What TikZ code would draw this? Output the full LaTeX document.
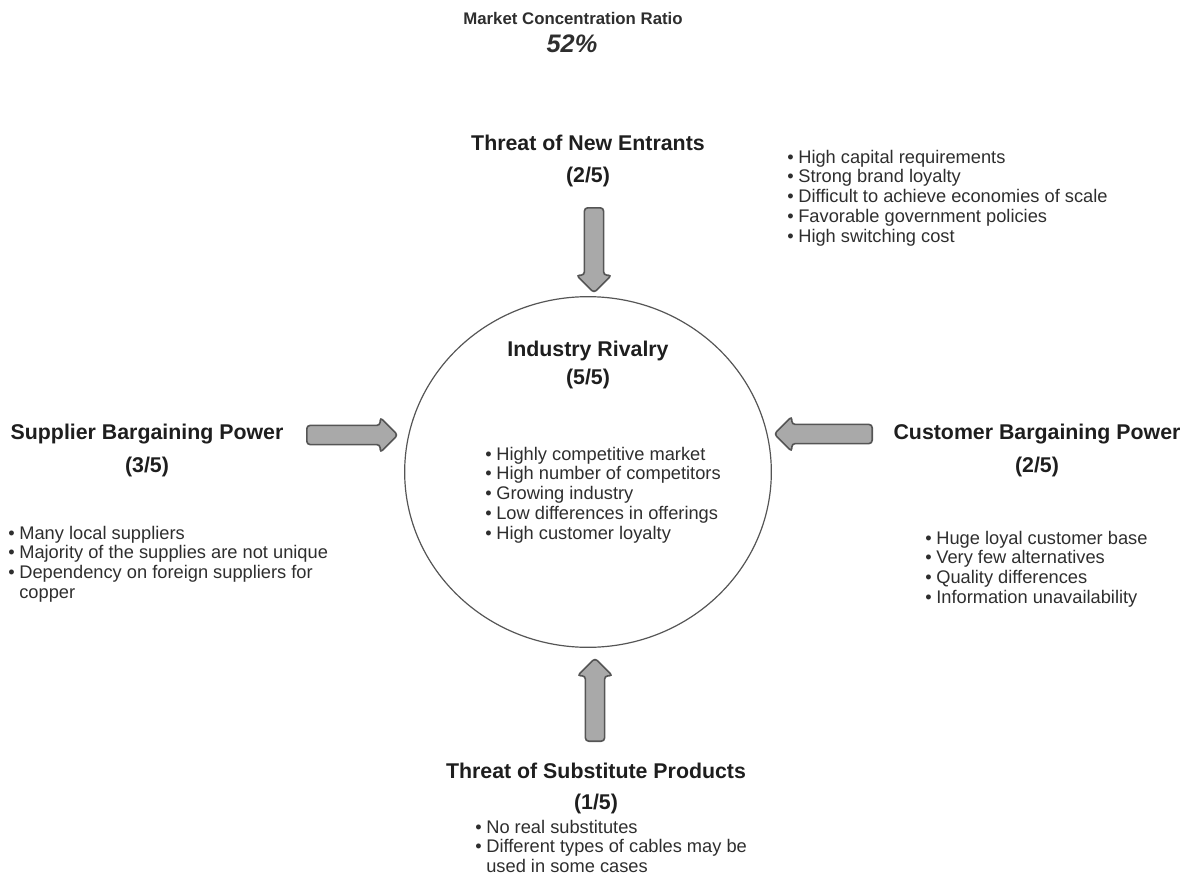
\documentclass[tikz,border=0pt]{standalone}
\usepackage{fontspec}
\setmainfont{Liberation Sans}
\usepackage{xcolor}
\usepackage{tikz}
\usetikzlibrary{shapes.geometric,shapes.arrows}
\definecolor{ink}{HTML}{1E1E1E}
\definecolor{soft}{HTML}{2E2E2E}
\definecolor{arrowfill}{HTML}{A9A9A9}
\definecolor{arrowline}{HTML}{555555}
\newcommand{\bl}{\textbullet}
\tikzset{
  heading/.style={align=center, inner sep=0pt, text=ink, font=\fontsize{16}{18}\selectfont\bfseries},
  score/.style={align=center, inner sep=0pt, text=ink, font=\fontsize{16}{18}\selectfont\bfseries},
  bullets/.style={anchor=north west, align=left, inner sep=0pt, text=soft, font=\fontsize{13.7}{14.8}\selectfont},
  force/.style={single arrow, draw=arrowline, fill=arrowfill, line width=1.2pt, rounded corners=2.5pt,
    inner sep=0pt, text height=6.6pt, text depth=6.6pt, single arrow head extend=6pt},
  rivalry/.style={ellipse, draw=arrowline, line width=0.9pt, minimum width=275pt, minimum height=263pt}
}

\begin{document}
\begin{tikzpicture}[x=0.75pt,y=-0.75pt]
  \useasboundingbox (0,0) rectangle (1186,878);

  \node[inner sep=0pt, text=soft, font=\fontsize{12.6}{14}\selectfont\bfseries] (ratio) at (573,18) {Market Concentration Ratio};
  \node[inner sep=0pt, text=soft, font=\fontsize{19}{21}\selectfont\bfseries\itshape] (ratioval) at (572,44) {52\%};

  \node[rivalry] (circle) at (588,472) {};
  \node[heading] (rival) at (588,351) {Industry Rivalry};
  \node[score] (rivalscore) at (588,379) {(5/5)};
  \node[bullets] (rivallist) at (485,446)
    {\begin{tabular}{@{}l@{\hspace{3.5pt}}l@{}}
      \bl & Highly competitive market\\
      \bl & High number of competitors\\
      \bl & Growing industry\\
      \bl & Low differences in offerings\\
      \bl & High customer loyalty
    \end{tabular}};

  \node[heading] (entrants) at (588,143) {Threat of New Entrants};
  \node[score] (entrantsscore) at (588,177) {(2/5)};
  \node[bullets] (entrantslist) at (787,149)
    {\begin{tabular}{@{}l@{\hspace{3.5pt}}l@{}}
      \bl & High capital requirements\\
      \bl & Strong brand loyalty\\
      \bl & Difficult to achieve economies of scale\\
      \bl & Favorable government policies\\
      \bl & High switching cost
    \end{tabular}};

  \node[heading] (supplier) at (147,434) {Supplier Bargaining Power};
  \node[score] (supplierscore) at (147,467) {(3/5)};
  \node[bullets] (supplierlist) at (8,525)
    {\begin{tabular}{@{}l@{\hspace{3.5pt}}l@{}}
      \bl & Many local suppliers\\
      \bl & Majority of the supplies are not unique\\
      \bl & Dependency on foreign suppliers for\\
          & copper
    \end{tabular}};

  \node[heading] (customer) at (1037,434) {Customer Bargaining Power};
  \node[score] (customerscore) at (1037,467) {(2/5)};
  \node[bullets] (customerlist) at (925,530)
    {\begin{tabular}{@{}l@{\hspace{3.5pt}}l@{}}
      \bl & Huge loyal customer base\\
      \bl & Very few alternatives\\
      \bl & Quality differences\\
      \bl & Information unavailability
    \end{tabular}};

  \node[heading] (substitute) at (596,771) {Threat of Substitute Products};
  \node[score] (substitutescore) at (596,804) {(1/5)};
  \node[bullets] (substitutelist) at (475,819)
    {\begin{tabular}{@{}l@{\hspace{3.5pt}}l@{}}
      \bl & No real substitutes\\
      \bl & Different types of cables may be\\
          & used in some cases
    \end{tabular}};

  \node[force, rotate=-90, minimum height=63.75pt] (toparrow) at (594,245.5) {};
  \node[force, minimum height=68.25pt] (leftarrow) at (347.5,435) {};
  \node[force, rotate=180, minimum height=73.5pt] (rightarrow) at (828,434) {};
  \node[force, rotate=90, minimum height=62.25pt] (bottomarrow) at (595,704.5) {};
\end{tikzpicture}
\end{document}
